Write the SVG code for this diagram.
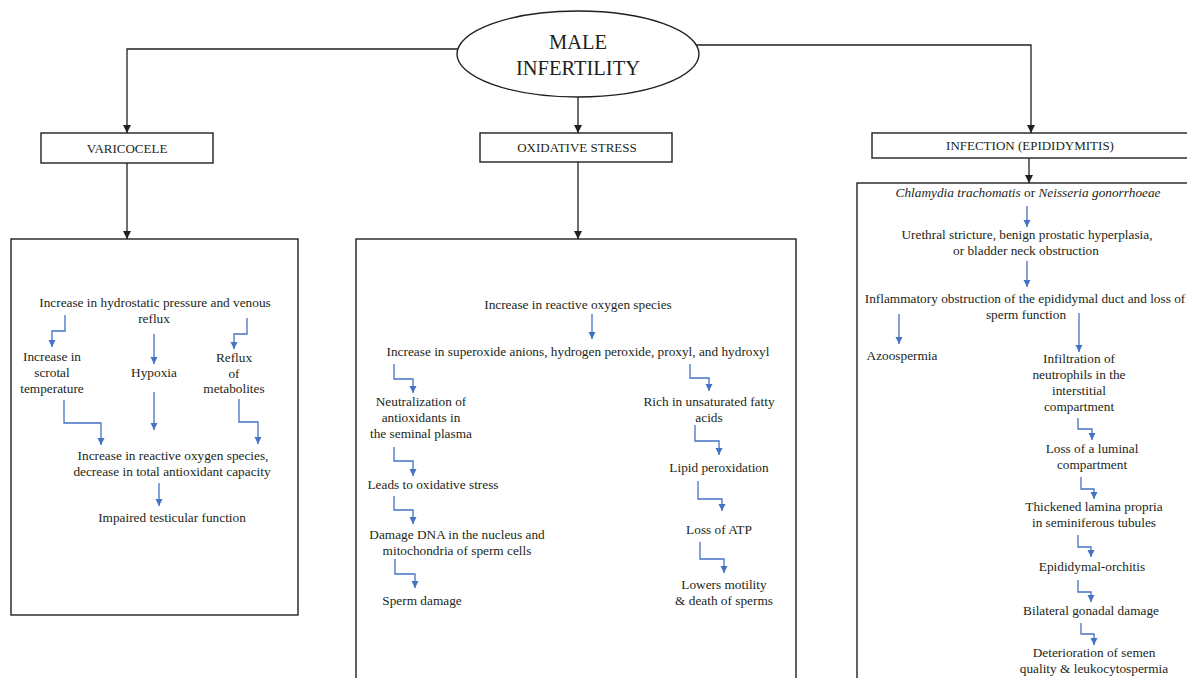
<svg xmlns="http://www.w3.org/2000/svg" width="1187" height="678" viewBox="0 0 1187 678">
<style>
text{font-family:"Liberation Serif","Times New Roman",serif;fill:#231f20;text-anchor:middle}
.t{font-size:13.3px}
.h{font-size:13px}
.big{font-size:20.5px}
.box{fill:#fff;stroke:#231f20;stroke-width:1.4}
.k{fill:none;stroke:#231f20;stroke-width:1.3;marker-end:url(#ak)}
.b{fill:none;stroke:#4472c4;stroke-width:1.3;marker-end:url(#ab)}
.i{font-style:italic}
</style>
<defs>
<marker id="ak" markerUnits="userSpaceOnUse" markerWidth="8" markerHeight="8" refX="8" refY="4" orient="auto"><path d="M0,0 L8,4 L0,8 z" fill="#231f20"/></marker>
<marker id="ab" markerUnits="userSpaceOnUse" markerWidth="8" markerHeight="8" refX="7" refY="3.5" orient="auto"><path d="M0,0 L7,3.5 L0,7 z" fill="#4472c4"/></marker>
</defs>
<rect width="1187" height="678" fill="#fff"/>

<g id="node-male">
<ellipse cx="578" cy="54" rx="121" ry="43" class="box"/>
<text class="big" x="578" y="49">MALE</text>
<text class="big" x="578" y="75">INFERTILITY</text>
</g>

<g id="node-varicocele">
<rect x="41" y="133" width="172" height="30" class="box"/>
<text class="h" x="127" y="153">VARICOCELE</text>
</g>
<g id="node-oxidative">
<rect x="480" y="133" width="192" height="29" class="box"/>
<text class="h" x="577" y="152">OXIDATIVE STRESS</text>
</g>
<g id="node-infection">
<rect x="872" y="133" width="330" height="25" class="box"/>
<text class="h" x="1030" y="150">INFECTION (EPIDIDYMITIS)</text>
</g>

<g id="node-varicocele-detail">
<rect x="11" y="239" width="287" height="376" class="box"/>
<text class="t" x="155" y="307">Increase in hydrostatic pressure and venous</text>
<text class="t" x="154" y="323">reflux</text>
<text class="t" x="52" y="361">Increase in</text>
<text class="t" x="52" y="377">scrotal</text>
<text class="t" x="52" y="393">temperature</text>
<text class="t" x="154" y="377">Hypoxia</text>
<text class="t" x="234" y="362">Reflux</text>
<text class="t" x="234" y="378">of</text>
<text class="t" x="234" y="393">metabolites</text>
<text class="t" x="173" y="460">Increase in reactive oxygen species,</text>
<text class="t" x="172" y="476">decrease in total antioxidant capacity</text>
<text class="t" x="172" y="522">Impaired testicular function</text>
</g>

<g id="node-oxidative-detail">
<rect x="356" y="239" width="440" height="460" class="box"/>
<text class="t" x="578" y="309">Increase in reactive oxygen species</text>
<text class="t" x="578" y="356">Increase in superoxide anions, hydrogen peroxide, proxyl, and hydroxyl</text>
<text class="t" x="421" y="406">Neutralization of</text>
<text class="t" x="421" y="422">antioxidants in</text>
<text class="t" x="421" y="438">the seminal plasma</text>
<text class="t" x="433" y="489">Leads to oxidative stress</text>
<text class="t" x="457" y="539">Damage DNA in the nucleus and</text>
<text class="t" x="457" y="555">mitochondria of sperm cells</text>
<text class="t" x="422" y="605">Sperm damage</text>
<text class="t" x="709" y="406">Rich in unsaturated fatty</text>
<text class="t" x="709" y="422">acids</text>
<text class="t" x="719" y="472">Lipid peroxidation</text>
<text class="t" x="719" y="534">Loss of ATP</text>
<text class="t" x="724" y="589">Lowers motility</text>
<text class="t" x="724" y="605">&amp; death of sperms</text>
</g>

<g id="node-infection-detail">
<rect x="857" y="183" width="345" height="520" class="box"/>
<text class="t" x="1028" y="197"><tspan class="i">Chlamydia trachomatis</tspan> or <tspan class="i">Neisseria gonorrhoeae</tspan></text>
<text class="t" x="1027" y="239">Urethral stricture, benign prostatic hyperplasia,</text>
<text class="t" x="1026" y="255">or bladder neck obstruction</text>
<text class="t" x="1025" y="303">Inflammatory obstruction of the epididymal duct and loss of</text>
<text class="t" x="1026" y="319">sperm function</text>
<text class="t" x="902" y="360">Azoospermia</text>
<text class="t" x="1079" y="363">Infiltration of</text>
<text class="t" x="1079" y="379">neutrophils in the</text>
<text class="t" x="1079" y="395">interstitial</text>
<text class="t" x="1079" y="411">compartment</text>
<text class="t" x="1092" y="453">Loss of a luminal</text>
<text class="t" x="1092" y="469">compartment</text>
<text class="t" x="1094" y="511">Thickened lamina propria</text>
<text class="t" x="1094" y="527">in seminiferous tubules</text>
<text class="t" x="1092" y="571">Epididymal-orchitis</text>
<text class="t" x="1091" y="615">Bilateral gonadal damage</text>
<text class="t" x="1094" y="657">Deterioration of semen</text>
<text class="t" x="1094" y="673">quality &amp; leukocytospermia</text>
</g>

<g id="connectors">
<path class="k" d="M458,49 H127 V133"/>
<path class="k" d="M578,97 V133"/>
<path class="k" d="M696,45 H1031 V133"/>
<path class="k" d="M127,163 V239"/>
<path class="k" d="M578,162 V239"/>
<path class="k" d="M1029,158 V183"/>

<path class="b" d="M65,315 V331 H52 V347"/>
<path class="b" d="M154,334 V364"/>
<path class="b" d="M247,318 V334 H234 V349"/>
<path class="b" d="M64,400 V423 H101 V445"/>
<path class="b" d="M154,392 V430"/>
<path class="b" d="M239,399 V422 H258 V444"/>
<path class="b" d="M159,483 V506"/>

<path class="b" d="M592,314 V339"/>
<path class="b" d="M394,364 V379 H413 V393"/>
<path class="b" d="M394,447 V461 H413 V476"/>
<path class="b" d="M394,496 V510 H413 V524"/>
<path class="b" d="M395,559 V574 H415 V588"/>
<path class="b" d="M690,364 V378 H709 V391"/>
<path class="b" d="M695,425 V441 H719 V455"/>
<path class="b" d="M698,481 V499 H722 V511"/>
<path class="b" d="M700,542 V559 H724 V573"/>

<path class="b" d="M1027,206 V227"/>
<path class="b" d="M1027,261 V287"/>
<path class="b" d="M899,314 V344"/>
<path class="b" d="M1079,313 V352"/>
<path class="b" d="M1078,418 V429 H1092 V440"/>
<path class="b" d="M1081,477 V489 H1094 V499"/>
<path class="b" d="M1078,535 V547 H1091 V557"/>
<path class="b" d="M1078,580 V592 H1091 V602"/>
<path class="b" d="M1081,623 V634 H1094 V645"/>
</g>
</svg>
